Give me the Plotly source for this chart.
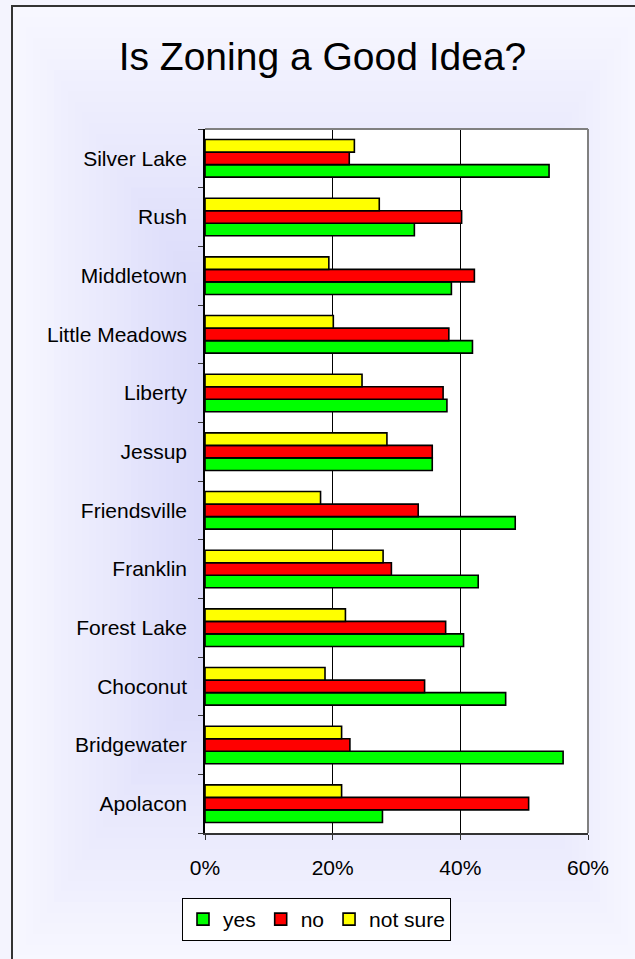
import plotly.graph_objects as go

categories = ["Apolacon", "Bridgewater", "Choconut", "Forest Lake", "Franklin",
              "Friendsville", "Jessup", "Liberty", "Little Meadows", "Middletown",
              "Rush", "Silver Lake"]
yes_vals = [27.8, 56.1, 47.1, 40.5, 42.8, 48.6, 35.6, 37.9, 41.9, 38.6, 32.8, 53.9]
no_vals = [50.7, 22.7, 34.4, 37.7, 29.2, 33.4, 35.6, 37.3, 38.2, 42.2, 40.2, 22.6]
notsure_vals = [21.4, 21.4, 18.8, 22.0, 27.9, 18.1, 28.5, 24.6, 20.1, 19.4, 27.3, 23.4]
x_ticks = [0, 20, 40, 60]
x_tick_labels = ["0%", "20%", "40%", "60%"]

W, H = 635, 959
L, R, T, B = 205, 588, 129, 833

def px(x):
    return (x - L) / (R - L)

def py(y):
    return (B - y) / (B - T)

FONT = "Liberation Sans, Arial, sans-serif"

fig = go.Figure()
series = [("yes", yes_vals, "#00ff00"), ("no", no_vals, "#ff0000"),
          ("not sure", notsure_vals, "#ffff00")]
for name, vals, col in series:
    fig.add_trace(go.Bar(
        y=categories, x=vals, name=name, orientation="h",
        marker=dict(color=col, line=dict(color="black", width=1.6)),
    ))

shapes = []
# background gradient (rectangular, from center)
x0c, y0c, x1c, y1c = 12, 6, 642, 966
cx, cy = (x0c + x1c) / 2, (y0c + y1c) / 2
hw, hh = (x1c - x0c) / 2, (y1c - y0c) / 2
center = (198, 198, 246)
edge = (247, 247, 255)
N = 45
for i in range(N):
    t = 1 - i / N
    c = tuple(int(round(center[k] + (edge[k] - center[k]) * t)) for k in range(3))
    shapes.append(dict(type="rect", xref="paper", yref="paper", layer="below",
                       x0=px(cx - hw * t), x1=px(cx + hw * t),
                       y0=py(cy + hh * t), y1=py(cy - hh * t),
                       fillcolor=f"rgb{c}", line=dict(width=0)))
# outer border
shapes.append(dict(type="rect", xref="paper", yref="paper", layer="below",
                   x0=px(12), x1=px(650), y0=py(975), y1=py(6),
                   fillcolor="rgba(0,0,0,0)", line=dict(color="#333333", width=2)))
# plot area white
shapes.append(dict(type="rect", xref="paper", yref="paper", layer="below",
                   x0=0, x1=1, y0=0, y1=1, fillcolor="white", line=dict(width=0)))
# top and right border of plot area (gray)
shapes.append(dict(type="line", xref="paper", yref="paper", layer="above",
                   x0=0, x1=1, y0=1, y1=1, line=dict(color="#808080", width=2)))
shapes.append(dict(type="line", xref="paper", yref="paper", layer="above",
                   x0=1, x1=1, y0=0, y1=1, line=dict(color="#808080", width=2)))

fig.update_layout(
    width=W, height=H,
    margin=dict(l=L, r=W - R, t=T, b=H - B, pad=0),
    paper_bgcolor="#f4f4fe",
    plot_bgcolor="white",
    barmode="group", bargap=0.36, bargroupgap=0,
    shapes=shapes,
    title=dict(text="Is Zoning a Good Idea?", x=322.5 / W, xanchor="center",
               y=1 - 56 / H, yanchor="middle",
               font=dict(family=FONT, size=39, color="black")),
    xaxis=dict(range=[0, 60], tickmode="array", tickvals=x_ticks, ticktext=x_tick_labels,
               showgrid=True, gridcolor="black", gridwidth=1,
               showline=True, linecolor="#333333", linewidth=1.5,
               ticks="outside", ticklen=5, tickcolor="#333333",
               ticklabelstandoff=10, zeroline=False,
               tickfont=dict(family=FONT, size=21, color="black"), fixedrange=True),
    yaxis=dict(categoryorder="array", categoryarray=categories,
               showline=True, linecolor="black", linewidth=1.5,
               ticks="outside", ticklen=5, tickcolor="#333333", tickson="boundaries",
               ticklabelstandoff=12, showgrid=False,
               tickfont=dict(family=FONT, size=21, color="black"), fixedrange=True),
    legend=dict(orientation="h", x=px(316.5), xanchor="center", y=py(898), yanchor="top",
                bgcolor="white", bordercolor="black", borderwidth=1,
                traceorder="normal", itemwidth=30,
                font=dict(family=FONT, size=21, color="black")),
    showlegend=True,
)

fig.write_html("out.html")
